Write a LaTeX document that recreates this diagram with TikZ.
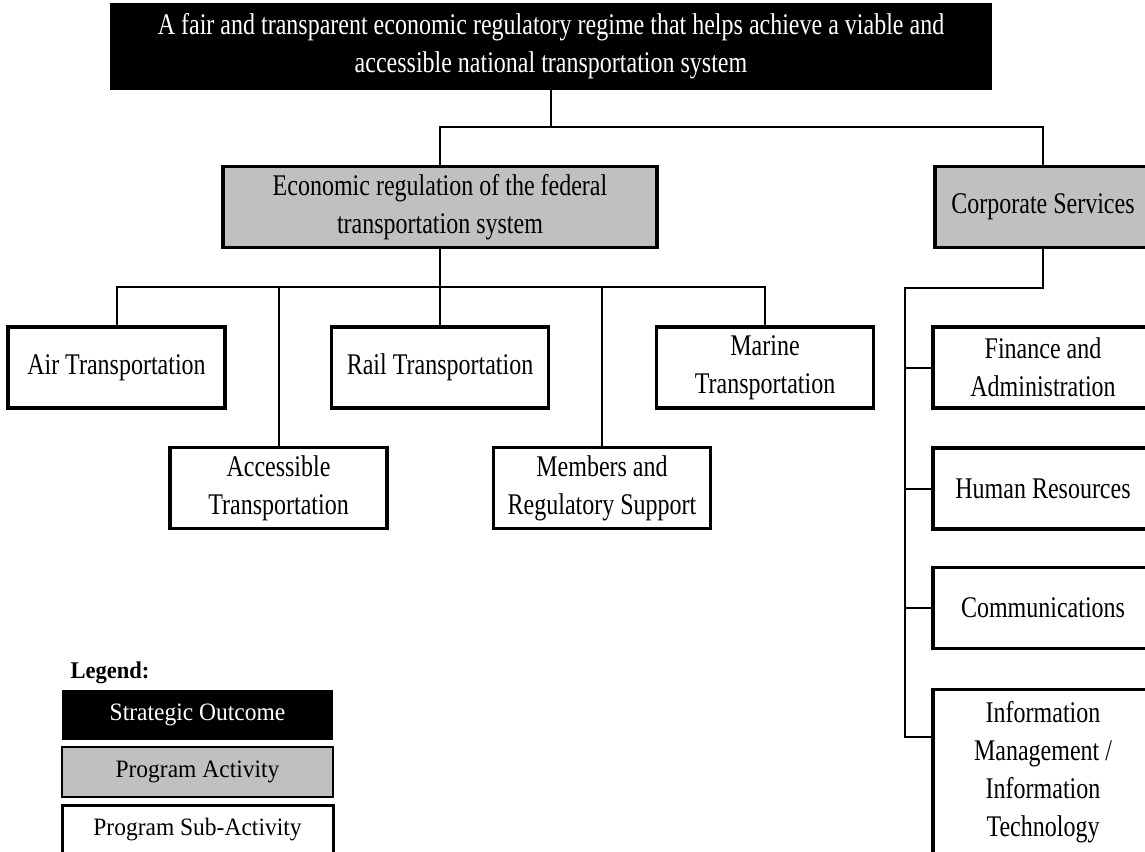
\documentclass[tikz,border=0pt]{standalone}
\usepackage{fontspec}
\setmainfont{Liberation Serif}[FakeStretch=0.8]
\newfontfamily\legendfont{Liberation Serif}[FakeStretch=0.94]
\usetikzlibrary{positioning}
\definecolor{boxgray}{RGB}{192,192,192}

\begin{document}
\begin{tikzpicture}[x=1pt, y=-1pt,
      every node/.style={font=\fontsize{30pt}{38pt}\selectfont},
      box/.style={rectangle, draw, line width=3.5pt, align=center, inner sep=0pt, minimum width=217pt, minimum height=81pt},
      outcome/.style={box, draw=black, fill=black, text=white},
      activity/.style={box, fill=boxgray},
      subact/.style={box, fill=white},
      conn/.style={line width=2pt},
      legbox/.style={rectangle, inner sep=0pt, minimum width=271pt, minimum height=50pt,
                     font=\legendfont\fontsize{25pt}{30pt}\selectfont}]

      \useasboundingbox (0,0) rectangle (1145,851);

      % Nodes
      \node[outcome, minimum width=878pt, minimum height=83pt] (so) at (551,46.5)
            {A fair and transparent economic regulatory regime that helps achieve a viable and\\ accessible national transportation system};
      \node[activity, minimum width=434pt] (econ) at (440,207) {Economic regulation of the federal\\ transportation system};
      \node[activity, minimum width=216pt] (corp) at (1043,207) {Corporate Services};

      \node[subact] (air) at (116.5,367.5) {Air Transportation};
      \node[subact] (rail) at (440,367.5) {Rail Transportation};
      \node[subact] (marine) at (765,367.5) {Marine\\ Transportation};
      \node[subact] (access) at (278.5,488) {Accessible\\ Transportation};
      \node[subact] (members) at (602,488) {Members and\\ Regulatory Support};

      \node[subact, minimum width=220pt] (finance) at (1043,367.5) {Finance and\\ Administration};
      \node[subact, minimum width=220pt] (hr) at (1043,488.5) {Human Resources};
      \node[subact, minimum width=220pt] (comm) at (1043,608) {Communications};
      \node[subact, minimum width=220pt, minimum height=165pt] (imit) at (1043,772)
            {Information\\ Management /\\ Information\\ Technology};

      % Edges
      \coordinate (bus1) at (551,127);
      \coordinate (bus2) at (440,287);
      \coordinate (bus3) at (905,288);
      \draw[conn] (so.south) -- (bus1);
      \draw[conn] (econ.north) |- (bus1) -| (corp.north);
      \draw[conn] (econ.south) -- (rail.north);
      \draw[conn] (air.north) |- (bus2) -| (marine.north);
      \draw[conn] (access.north) -- (access.north |- bus2);
      \draw[conn] (members.north) -- (members.north |- bus2);
      \draw[conn] (corp.south) |- (bus3) |- ([yshift=35pt]imit.west);
      \foreach \n in {finance,hr,comm}
        \draw[conn] (\n.west) -- (\n.west -| bus3);

      % Legend
      \node[anchor=base west, font=\legendfont\fontsize{24pt}{28pt}\selectfont\bfseries] (legend) at (67,678) {Legend:};
      \node[legbox, fill=black, text=white] (legso) at (197.5,714.5) {\raisebox{-7pt}{Strategic Outcome}};
      \node[legbox, fill=boxgray, draw, line width=2pt] (legpa) at (197.5,772) {\raisebox{-7pt}{Program Activity}};
      \node[legbox, fill=white, draw, line width=3pt] (legpsa) at (197.5,830) {\raisebox{-7pt}{Program Sub-Activity}};

    \end{tikzpicture}
\end{document}
